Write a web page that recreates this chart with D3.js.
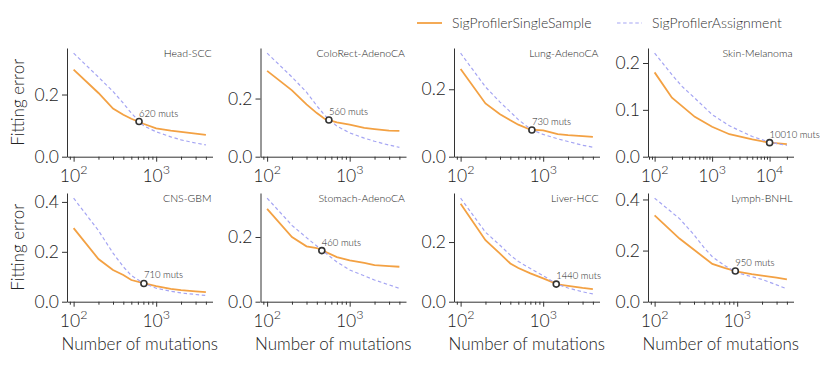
<!DOCTYPE html>
<html>
<head>
<meta charset="utf-8">
<script src="https://cdn.jsdelivr.net/npm/d3@7"></script>
<style>
  body { margin: 0; background: #fff; }
  svg { font-family: Lato, "Noto Sans", sans-serif; font-weight: 300; }
</style>
</head>
<body>
<svg id="chart" width="831" height="366"></svg>
<script>
// number of mutations sampled (Skin-Melanoma goes further)
const nMuts = [100, 200, 300, 400, 500, 700, 1000, 1500, 2000, 3000, 4000];
const nMutsSkin = [100, 200, 300, 500, 1000, 2000, 5000, 10000, 20000];

const cancerTypes = ["Head-SCC", "ColoRect-AdenoCA", "Lung-AdenoCA", "Skin-Melanoma",
                     "CNS-GBM", "Stomach-AdenoCA", "Liver-HCC", "Lymph-BNHL"];

// fitting error, SigProfilerSingleSample
const headSingle     = [0.280, 0.205, 0.155, 0.135, 0.122, 0.106, 0.091, 0.084, 0.080, 0.074, 0.070];
const colorectSingle = [0.295, 0.228, 0.180, 0.150, 0.130, 0.118, 0.110, 0.099, 0.095, 0.090, 0.089];
const lungSingle     = [0.260, 0.158, 0.126, 0.108, 0.095, 0.080, 0.078, 0.067, 0.064, 0.061, 0.059];
const skinSingle     = [0.180, 0.126, 0.108, 0.085, 0.064, 0.048, 0.037, 0.030, 0.027];
const cnsSingle      = [0.295, 0.171, 0.127, 0.107, 0.087, 0.074, 0.062, 0.051, 0.046, 0.041, 0.038];
const stomachSingle  = [0.287, 0.200, 0.171, 0.166, 0.155, 0.138, 0.128, 0.120, 0.113, 0.110, 0.108];
const liverSingle    = [0.328, 0.206, 0.161, 0.128, 0.113, 0.095, 0.078, 0.058, 0.053, 0.046, 0.042];
const lymphSingle    = [0.338, 0.247, 0.203, 0.172, 0.148, 0.132, 0.118, 0.108, 0.102, 0.094, 0.087];

// fitting error, SigProfilerAssignment
const headAssign     = [0.333, 0.256, 0.210, 0.172, 0.140, 0.100, 0.080, 0.064, 0.054, 0.044, 0.038];
const colorectAssign = [0.356, 0.274, 0.222, 0.175, 0.142, 0.105, 0.082, 0.064, 0.053, 0.040, 0.032];
const lungAssign     = [0.307, 0.207, 0.162, 0.133, 0.110, 0.082, 0.066, 0.053, 0.045, 0.034, 0.028];
const skinAssign     = [0.221, 0.175, 0.150, 0.125, 0.090, 0.066, 0.043, 0.031, 0.024];
const cnsAssign      = [0.415, 0.285, 0.195, 0.140, 0.105, 0.074, 0.054, 0.042, 0.035, 0.029, 0.025];
const stomachAssign  = [0.320, 0.236, 0.198, 0.172, 0.152, 0.123, 0.098, 0.080, 0.067, 0.052, 0.041];
const liverAssign    = [0.347, 0.233, 0.189, 0.156, 0.135, 0.111, 0.087, 0.058, 0.046, 0.033, 0.026];
const lymphAssign    = [0.405, 0.325, 0.262, 0.210, 0.176, 0.142, 0.113, 0.098, 0.087, 0.066, 0.050];

// crossing points
const crossMuts = [620, 560, 730, 10010, 710, 460, 1440, 950];
const crossErr  = [0.113, 0.126, 0.079, 0.030, 0.073, 0.158, 0.059, 0.120];

// tick labels
const yTicks = [[0, 0.2], [0, 0.2], [0, 0.2], [0, 0.1, 0.2],
                [0, 0.2, 0.4], [0, 0.2], [0, 0.2], [0, 0.2, 0.4]];
const xMajor = [[100, 1000], [100, 1000], [100, 1000], [100, 1000, 10000],
                [100, 1000], [100, 1000], [100, 1000], [100, 1000]];

const singleSeries = [headSingle, colorectSingle, lungSingle, skinSingle,
                      cnsSingle, stomachSingle, liverSingle, lymphSingle];
const assignSeries = [headAssign, colorectAssign, lungAssign, skinAssign,
                      cnsAssign, stomachAssign, liverAssign, lymphAssign];

const orange = "#f3a143";
const blue = "#a5a5f3";
const ink = "#333";

const svg = d3.select("#chart");
const panelLeft = [67, 260.5, 454, 648];
const rowTop = [48, 193];
const W = 145.5, H = 108.7;

cancerTypes.forEach(function(name, i) {
    let row = Math.floor(i / 4), col = i % 4;
    let xs = (name == "Skin-Melanoma") ? nMutsSkin : nMuts;
    let single = singleSeries[i], assign = assignSeries[i];

    let g = svg.append("g")
        .attr("transform", "translate(" + panelLeft[col] + "," + rowTop[row] + ")");

    // matplotlib-like 5% margins on the log axis
    let lo = Math.log10(xs[0]), hi = Math.log10(xs[xs.length - 1]);
    let pad = (hi - lo) * 0.05;
    let x = d3.scaleLog().domain([Math.pow(10, lo - pad), Math.pow(10, hi + pad)]).range([0, W]);
    let y = d3.scaleLinear().domain([0, d3.max(single.concat(assign)) * 1.05]).range([H, 0]);

    // major + minor ticks
    let dom = x.domain();
    let ticks = [];
    for (let k = 1; k <= 5; k++) {
        for (let m = 1; m <= 9; m++) {
            let v = m * Math.pow(10, k);
            if (v >= dom[0] && v <= dom[1]) ticks.push(v);
        }
    }
    let xAxis = g.append("g")
        .attr("transform", "translate(0," + H + ")")
        .call(d3.axisBottom(x).tickValues(ticks).tickFormat("").tickSizeOuter(0));
    xAxis.selectAll(".tick line")
        .attr("y2", d => xMajor[i].indexOf(d) >= 0 ? 5 : 3)
        .attr("stroke", ink);
    xAxis.select(".domain").attr("stroke", ink);

    xMajor[i].forEach(function(v) {
        let t = g.append("text")
            .attr("x", x(v))
            .attr("y", H + 25)
            .attr("text-anchor", "middle")
            .attr("fill", "#222")
            .style("font-size", "17.5px");
        t.append("tspan").text("10");
        t.append("tspan").attr("dy", -8).style("font-size", "12.5px").text(Math.round(Math.log10(v)));
    });

    let yAxis = g.append("g")
        .call(d3.axisLeft(y).tickValues(yTicks[i]).tickSize(5).tickSizeOuter(0)
            .tickFormat(d3.format(".1f")));
    yAxis.select(".domain").attr("stroke", ink);
    yAxis.selectAll(".tick line").attr("stroke", ink);
    yAxis.selectAll(".tick text")
        .attr("fill", "#222")
        .style("font-size", "17.5px")
        .style("font-family", "Lato, Noto Sans, sans-serif")
        .style("font-weight", 300);

    let line = d3.line()
        .x((d, j) => x(xs[j]))
        .y(d => y(d));

    g.append("path")
        .datum(single)
        .attr("d", line)
        .attr("fill", "none")
        .attr("stroke", orange)
        .attr("stroke-width", 1.8);

    g.append("path")
        .datum(assign)
        .attr("d", line)
        .attr("fill", "none")
        .attr("stroke", blue)
        .attr("stroke-width", 1.2)
        .attr("stroke-dasharray", "3.5,2.6");

    // crossing marker
    let cx = x(crossMuts[i]), cy = y(crossErr[i]);
    g.append("circle")
        .attr("cx", cx)
        .attr("cy", cy)
        .attr("r", 3)
        .attr("fill", "#fff")
        .attr("stroke", ink)
        .attr("stroke-width", 1.6);
    g.append("text")
        .attr("x", cx)
        .attr("y", cy - 5)
        .attr("fill", "#222")
        .style("font-size", "9.5px")
        .text(crossMuts[i] + " muts");

    g.append("text")
        .attr("x", W - 1)
        .attr("y", 8.5)
        .attr("text-anchor", "end")
        .attr("fill", "#222")
        .style("font-size", "10.5px")
        .text(name);

    if (col == 0) {
        svg.append("text")
            .attr("transform", "translate(23.5," + (rowTop[row] + H / 2) + ") rotate(-90)")
            .attr("text-anchor", "middle")
            .attr("fill", "#222")
            .style("font-size", "17px")
            .text("Fitting error");
    }
    if (row == 1) {
        svg.append("text")
            .attr("x", panelLeft[col] + W / 2)
            .attr("y", rowTop[row] + H + 48)
            .attr("text-anchor", "middle")
            .attr("fill", "#222")
            .style("font-size", "17px")
            .text("Number of mutations");
    }
});

// legend
const legendItems = [
    {label: "SigProfilerSingleSample", color: orange, dash: null, width: 1.8, x: 417},
    {label: "SigProfilerAssignment", color: blue, dash: "3.5,2.6", width: 1.2, x: 617}
];
let legend = svg.append("g");
legendItems.forEach(function(d) {
    legend.append("line")
        .attr("x1", d.x).attr("x2", d.x + 25)
        .attr("y1", 23).attr("y2", 23)
        .attr("stroke", d.color)
        .attr("stroke-width", d.width)
        .attr("stroke-dasharray", d.dash);
    legend.append("text")
        .attr("x", d.x + 35)
        .attr("y", 27.5)
        .attr("fill", "#333")
        .style("font-size", "14px")
        .text(d.label);
});
</script>
</body>
</html>
